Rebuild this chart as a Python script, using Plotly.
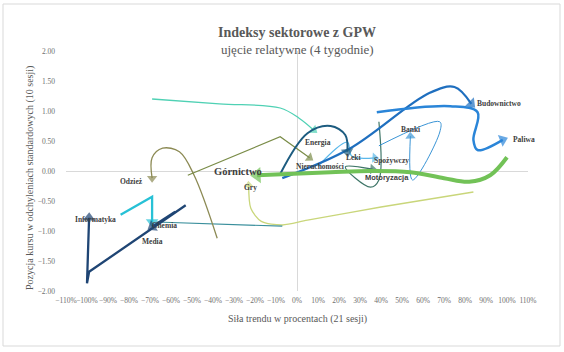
import plotly.graph_objects as go

# ---- data (x: trend strength as fraction, y: position in std devs) ----
budownictwo_x = [-0.07, 0.25, 0.63, 0.75, 0.83]
budownictwo_y = [-0.12, 0.37, 1.30, 1.40, 1.12]

paliwa_x = [0.38, 0.73, 0.86, 0.84, 0.86, 0.98]
paliwa_y = [0.98, 1.08, 0.98, 0.52, 0.35, 0.52]

leki_x = [-0.08, 0.05, 0.16, 0.23, 0.24]
leki_y = [-0.05, 0.63, 0.75, 0.60, 0.32]

energia_x = [-0.69, -0.37, -0.08, 0.01, 0.08]
energia_y = [1.20, 1.12, 1.05, 0.88, 0.68]

nieruchomosci_x = [-0.52, -0.08, 0.06]
nieruchomosci_y = [-0.07, 0.57, 0.22]

odziez_x = [-0.38, -0.49, -0.56, -0.64, -0.69, -0.69]
odziez_y = [-1.12, -0.07, 0.32, 0.38, 0.22, -0.12]

informatyka_x = [-0.53, -0.99, -1.00, -0.99]
informatyka_y = [-0.57, -1.68, -1.87, -0.78]

media_x = [-0.58, -0.69]
media_y = [-0.68, -0.93]

chemia_x = [-0.84, -0.69, -0.69]
chemia_y = [-0.73, -0.43, -0.85]

chemia_tail_x = [-0.67, -0.07]
chemia_tail_y = [-0.85, -0.92]

gry_x = [0.84, 0.40, 0.05, -0.07, -0.17, -0.22, -0.23]
gry_y = [-0.35, -0.60, -0.82, -0.90, -0.84, -0.62, -0.23]

gornictwo_x = [1.00, 0.92, 0.82, 0.70, 0.54, 0.35, 0.16, -0.19]
gornictwo_y = [0.23, -0.07, -0.18, -0.12, -0.02, 0.00, -0.02, -0.07]

banki_x = [0.39, 0.68, 0.68, 0.55, 0.54]
banki_y = [0.42, 0.82, 0.65, -0.15, 0.58]

spozywczy_x = [0.10, 0.24, 0.26, 0.37]
spozywczy_y = [0.08, 0.48, 0.25, 0.22]

motoryzacja_x = [0.39, 0.39, 0.35, 0.23, 0.36]
motoryzacja_y = [0.82, -0.15, -0.27, 0.07, 0.03]

x_ticks = [v / 100 for v in range(-110, 111, 10)]
y_ticks = [-2.0, -1.5, -1.0, -0.5, 0.0, 0.5, 1.0, 1.5, 2.0]

# ---- labels ----
label_text = ["Budownictwo", "Paliwa", "Banki", "Leki", "Spożywczy", "Motoryzacja",
              "Nieruchomości", "Energia", "Górnictwo", "Gry", "Odzież",
              "Informatyka", "Chemia", "Media"]
label_x = [0.96, 1.08, 0.54, 0.27, 0.45, 0.43, 0.11, 0.10, -0.28, -0.22, -0.79,
           -0.96, -0.63, -0.69]
label_y = [1.13, 0.53, 0.70, 0.23, 0.18, -0.10, 0.08, 0.48, 0.0, -0.27, -0.18,
           -0.80, -0.90, -1.18]

fig = go.Figure()


def add_series(xs, ys, color, width, shape="spline", arrow=True, asize=9, smooth=1.0):
    sizes = [0] * (len(xs) - 1) + [asize if arrow else 0]
    fig.add_trace(go.Scatter(
        x=xs, y=ys, mode="lines+markers" if arrow else "lines",
        line=dict(color=color, width=width, shape=shape,
                  smoothing=smooth if shape == "spline" else None),
        marker=dict(symbol="triangle-up", size=sizes, angleref="previous",
                    color=color, line=dict(width=0)),
        hoverinfo="skip", showlegend=False))


add_series(energia_x, energia_y, "#4fd1b4", 1.3)
add_series(gry_x, gry_y, "#c9d67a", 1.3, asize=8, smooth=0.8)
add_series(chemia_tail_x, chemia_tail_y, "#3a8f9c", 1.2, shape="linear", arrow=False)
add_series(odziez_x, odziez_y, "#8c8a54", 1.3, asize=9)
add_series(nieruchomosci_x, nieruchomosci_y, "#7a8c48", 1.2, shape="linear", asize=9)
add_series(motoryzacja_x, motoryzacja_y, "#3f7668", 1.2, asize=9)
add_series(banki_x, banki_y, "#3b95d6", 1.0, asize=9)
add_series(spozywczy_x, spozywczy_y, "#5ab8ea", 1.3, asize=9)
add_series(budownictwo_x, budownictwo_y, "#1f6fbf", 2.3, asize=11)
add_series(paliwa_x, paliwa_y, "#2a85d8", 2.5, asize=11)
add_series(leki_x, leki_y, "#1d5c80", 2.0, asize=11)
add_series(gornictwo_x, gornictwo_y, "#72c257", 4.0, asize=14)
add_series(chemia_x, chemia_y, "#27c1d6", 2.3, shape="linear", asize=11)
add_series(informatyka_x, informatyka_y, "#1f4574", 2.3, shape="linear", asize=11)
add_series(media_x, media_y, "#1f4574", 2.3, shape="linear", asize=11)

for t, lx, ly in zip(label_text, label_x, label_y):
    big = t == "Górnictwo"
    fam = "Liberation Sans" if t == "Motoryzacja" else "Liberation Serif"
    fig.add_annotation(x=lx, y=ly, text=f"<b>{t}</b>", showarrow=False,
                       font=dict(family=fam, size=10.5 if big else 7.5, color="#404040"))

L, R, T, B = 66, 36, 51, 61
W, H = 564, 352
pw, ph = W - L - R, H - T - B


def px_x(p):
    return (p - L) / pw


def px_y(p):
    return (H - B - p) / ph


fig.add_annotation(xref="paper", yref="paper", x=0.5, y=px_y(23), text="<b>Indeksy sektorowe z GPW</b>",
                   showarrow=False, font=dict(family="Liberation Serif", size=14, color="#595959"))
fig.add_annotation(xref="paper", yref="paper", x=0.5, y=px_y(40), text="ujęcie relatywne (4 tygodnie)",
                   showarrow=False, font=dict(family="Liberation Serif", size=13, color="#595959"))
fig.add_annotation(xref="paper", yref="paper", x=0.5, y=px_y(327), text="Siła trendu w procentach (21 sesji)",
                   showarrow=False, font=dict(family="Liberation Serif", size=10, color="#595959"))
fig.add_annotation(xref="paper", yref="paper", x=px_x(22), y=px_y(178), textangle=-90,
                   text="Pozycja kursu w odchyleniach standardowych (10 sesji)",
                   showarrow=False, font=dict(family="Liberation Serif", size=10, color="#595959"))

fig.add_shape(type="rect", xref="paper", yref="paper", x0=px_x(3), x1=px_x(560),
              y0=px_y(346), y1=px_y(4), line=dict(color="#d9d9d9", width=1), layer="below")

fig.update_xaxes(range=[-1.1, 1.1], tickvals=x_ticks, tickformat=".0%", showgrid=False,
                 zeroline=True, zerolinecolor="#d9d9d9", zerolinewidth=1, showline=False,
                 ticks="", tickangle=0, automargin=False,
                 tickfont=dict(family="Liberation Serif", size=7.5, color="#6f6f6f"),
                 ticklabelstandoff=3)
fig.update_yaxes(range=[-2, 2], tickvals=y_ticks, tickformat=".2f", showgrid=False,
                 zeroline=True, zerolinecolor="#d9d9d9", zerolinewidth=1, showline=False,
                 ticks="", automargin=False,
                 tickfont=dict(family="Liberation Serif", size=7.5, color="#6f6f6f"),
                 ticklabelstandoff=10)
fig.update_layout(width=W, height=H, margin=dict(l=L, r=R, t=T, b=B),
                  paper_bgcolor="white", plot_bgcolor="white", showlegend=False)

fig.write_html("out.html")
